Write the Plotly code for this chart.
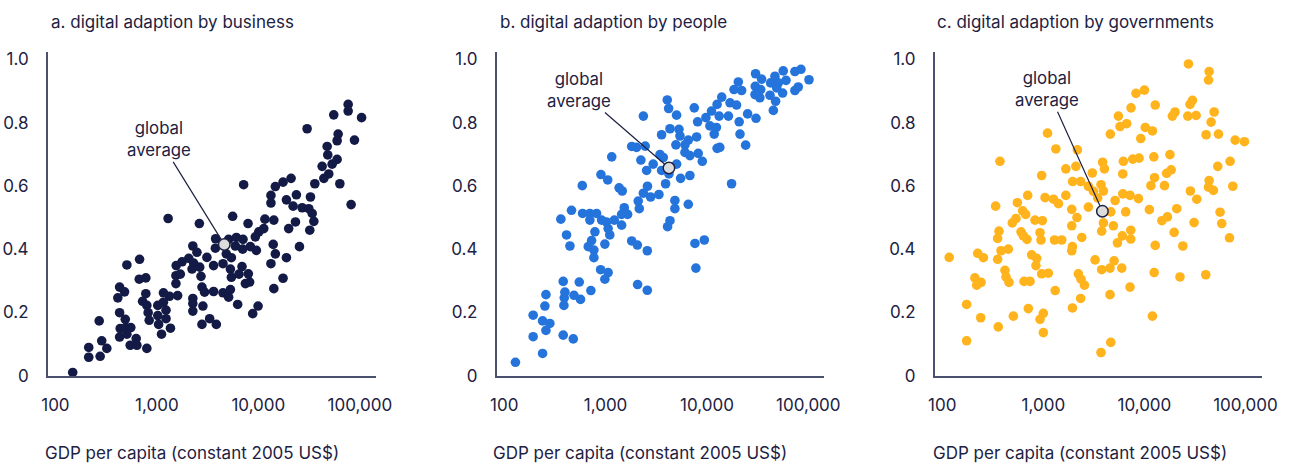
import math
import plotly.graph_objects as go

# ---------------- data ----------------
panel_titles = ["a. digital adaption by business",
                "b. digital adaption by people",
                "c. digital adaption by governments"]
x_title = "GDP per capita (constant 2005 US$)"
x_tickvals = [100, 1000, 10000, 100000]
x_ticktext = ["100", "1,000", "10,000", "100,000"]
y_tickvals = [0, 0.2, 0.4, 0.6, 0.8, 1.0]
y_ticktext = ["0", "0.2", "0.4", "0.6", "0.8", "1.0"]

business_gdp = [
    76700, 76700, 55300, 104000, 30200, 61100, 88500, 59700, 47600, 48300,
    59700, 53300, 42500, 49400, 44200, 63500, 36000, 82000, 21000, 17500,
    14700, 13300, 23700, 32600, 13300, 18900, 22000, 27000, 31400, 33900,
    35200, 32100, 23200, 19900, 25400, 11600, 14200, 11300, 10100, 9330,
    14000, 14700, 18900, 13300, 17500, 14200, 7160, 5580, 7910, 2620,
    1290, 3790, 5090, 6070, 7060, 5930, 7000, 8340, 9550, 3770,
    2260, 2480, 3110, 2060, 1770, 1550, 2300, 2640, 2220, 3620,
    4480, 4830, 5420, 5300, 5420, 6900, 6440, 7960, 8200, 7450,
    2720, 1540, 1700, 1540, 2780, 2950, 3620, 4480, 5300, 5090,
    6250, 2260, 2260, 2260, 2840, 3310, 2780, 3850, 8790, 9930,
    1600, 1330, 1160, 1160, 1230, 1020, 1020, 1040, 1230, 1360,
    1110, 675, 506, 670, 778, 778, 723, 796, 820, 840,
    429, 480, 412, 429, 488, 435, 494, 553, 429, 506,
    625, 546, 635, 796, 270, 286, 321, 276, 213, 213, 148]
business_score = [
    0.858, 0.837, 0.825, 0.816, 0.781, 0.764, 0.745, 0.743, 0.725, 0.698,
    0.684, 0.669, 0.662, 0.638, 0.624, 0.607, 0.607, 0.541, 0.624, 0.612,
    0.598, 0.570, 0.572, 0.565, 0.546, 0.556, 0.536, 0.531, 0.528, 0.513,
    0.488, 0.460, 0.486, 0.465, 0.408, 0.495, 0.492, 0.465, 0.455, 0.439,
    0.415, 0.385, 0.373, 0.354, 0.308, 0.275, 0.604, 0.504, 0.481, 0.481,
    0.497, 0.433, 0.431, 0.437, 0.431, 0.410, 0.400, 0.408, 0.396, 0.403,
    0.410, 0.390, 0.374, 0.371, 0.360, 0.348, 0.356, 0.343, 0.337, 0.348,
    0.354, 0.385, 0.373, 0.337, 0.311, 0.345, 0.321, 0.322, 0.296, 0.291,
    0.314, 0.316, 0.321, 0.291, 0.280, 0.264, 0.266, 0.262, 0.272, 0.248,
    0.225, 0.244, 0.228, 0.204, 0.220, 0.180, 0.162, 0.162, 0.196, 0.220,
    0.253, 0.251, 0.262, 0.232, 0.207, 0.222, 0.190, 0.162, 0.180, 0.150,
    0.131, 0.368, 0.350, 0.305, 0.309, 0.259, 0.235, 0.222, 0.199, 0.175,
    0.280, 0.265, 0.246, 0.199, 0.178, 0.149, 0.152, 0.152, 0.122, 0.131,
    0.117, 0.096, 0.096, 0.086, 0.173, 0.110, 0.086, 0.061, 0.089, 0.058, 0.010]

people_gdp = [
    84700, 73800, 56600, 101600, 30200, 34600, 46900, 60300, 20400, 30000,
    50600, 42500, 48800, 79600, 73800, 55800, 18500, 22000, 33900, 29800,
    33300, 41900, 47600, 14000, 16900, 19600, 45200, 12600, 11100, 13200,
    16300, 25200, 30500, 9770, 20800, 10700, 12400, 11800, 21200, 24100,
    12600, 13400, 8090, 7500, 5020, 4060, 4190, 4320, 3570, 5300,
    5420, 7910, 6550, 4940, 6070, 2360, 1810, 2020, 2460, 3440,
    3710, 6070, 6790, 8200, 9000, 2950, 3570, 5020, 2230, 2540,
    4220, 5500, 6790, 3910, 3360, 2780, 2590, 2360, 2100, 2150,
    4830, 4830, 6550, 4320, 4090, 17500, 1150, 900, 1050, 589,
    1360, 1460, 1530, 1650, 1440, 1220, 1440, 1020, 1060, 1100,
    914, 815, 700, 593, 700, 461, 362, 785, 728, 675,
    767, 767, 984, 412, 445, 1810, 2060, 2580, 893, 1060,
    984, 382, 550, 397, 488, 391, 566, 716, 388, 2070,
    2580, 7620, 9420, 7780, 258, 252, 193, 239, 282, 258,
    193, 382, 480, 239, 129]
people_score = [
    0.969, 0.962, 0.964, 0.936, 0.955, 0.938, 0.947, 0.934, 0.929, 0.915,
    0.926, 0.926, 0.910, 0.913, 0.902, 0.894, 0.905, 0.902, 0.905, 0.889,
    0.879, 0.887, 0.868, 0.881, 0.863, 0.856, 0.839, 0.858, 0.837, 0.821,
    0.821, 0.828, 0.814, 0.816, 0.803, 0.790, 0.785, 0.764, 0.764, 0.729,
    0.719, 0.722, 0.803, 0.847, 0.824, 0.872, 0.845, 0.781, 0.762, 0.779,
    0.758, 0.755, 0.745, 0.730, 0.730, 0.821, 0.725, 0.722, 0.726, 0.699,
    0.690, 0.706, 0.696, 0.703, 0.678, 0.669, 0.649, 0.669, 0.682, 0.649,
    0.638, 0.624, 0.633, 0.607, 0.573, 0.565, 0.599, 0.577, 0.552, 0.528,
    0.554, 0.528, 0.542, 0.490, 0.471, 0.607, 0.692, 0.636, 0.619, 0.601,
    0.594, 0.584, 0.531, 0.510, 0.510, 0.492, 0.476, 0.486, 0.465, 0.445,
    0.492, 0.513, 0.513, 0.513, 0.492, 0.523, 0.495, 0.455, 0.427, 0.408,
    0.397, 0.373, 0.416, 0.445, 0.410, 0.426, 0.413, 0.395, 0.335, 0.326,
    0.305, 0.298, 0.296, 0.264, 0.254, 0.246, 0.241, 0.269, 0.222, 0.288,
    0.270, 0.418, 0.429, 0.340, 0.256, 0.220, 0.191, 0.173, 0.165, 0.143,
    0.123, 0.128, 0.116, 0.070, 0.042]

government_gdp = [
    27300, 43700, 43100, 10000, 8260, 12800, 29900, 28300, 20100, 18900,
    26900, 32500, 49000, 45700, 40800, 54100, 79100, 97700, 7380, 5530,
    6680, 5740, 10200, 12000, 9200, 4600, 1100, 1330, 2170, 372,
    3860, 4020, 6190, 7660, 8850, 12400, 17900, 6110, 3050, 2100,
    1670, 962, 1950, 2340, 2790, 3720, 3930, 3130, 1670, 1040,
    1260, 1410, 1910, 2790, 3450, 2150, 1910, 2400, 4650, 5130,
    3930, 3780, 4930, 6530, 6110, 7210, 8730, 11600, 12600, 15800,
    16600, 18400, 28500, 33000, 43700, 43100, 48200, 53200, 70500, 75000,
    11200, 14900, 16900, 20900, 31000, 19700, 24000, 12800, 7330, 6050,
    5410, 7330, 56100, 58300, 69500, 3250, 3780, 4570, 5010, 5970,
    7210, 12500, 22500, 40500, 12000, 4570, 4650, 3720, 1940, 1910,
    2220, 2360, 2550, 2340, 1940, 1310, 1290, 1520, 948, 927,
    826, 977, 700, 553, 624, 668, 536, 493, 601, 634,
    689, 337, 364, 353, 381, 450, 353, 766, 859, 845,
    962, 1120, 644, 738, 417, 427, 457, 710, 1000, 927,
    1000, 505, 358, 224, 255, 210, 242, 219, 174, 240,
    174, 117]
government_score = [
    0.986, 0.962, 0.935, 0.903, 0.893, 0.856, 0.871, 0.858, 0.834, 0.821,
    0.821, 0.823, 0.834, 0.802, 0.762, 0.764, 0.745, 0.740, 0.847, 0.821,
    0.797, 0.788, 0.785, 0.774, 0.750, 0.764, 0.767, 0.717, 0.714, 0.678,
    0.675, 0.654, 0.678, 0.685, 0.688, 0.692, 0.699, 0.638, 0.641, 0.662,
    0.654, 0.633, 0.614, 0.614, 0.599, 0.604, 0.584, 0.583, 0.570, 0.563,
    0.558, 0.544, 0.526, 0.533, 0.562, 0.500, 0.474, 0.437, 0.518, 0.554,
    0.483, 0.457, 0.474, 0.518, 0.575, 0.570, 0.560, 0.601, 0.626, 0.601,
    0.640, 0.651, 0.584, 0.558, 0.617, 0.596, 0.586, 0.662, 0.678, 0.599,
    0.525, 0.490, 0.502, 0.528, 0.484, 0.453, 0.410, 0.412, 0.432, 0.442,
    0.420, 0.460, 0.517, 0.481, 0.436, 0.366, 0.335, 0.340, 0.363, 0.340,
    0.280, 0.326, 0.312, 0.319, 0.188, 0.256, 0.105, 0.073, 0.408, 0.395,
    0.322, 0.305, 0.286, 0.244, 0.214, 0.269, 0.429, 0.429, 0.429, 0.452,
    0.492, 0.490, 0.570, 0.547, 0.521, 0.510, 0.497, 0.483, 0.455, 0.442,
    0.431, 0.536, 0.457, 0.434, 0.395, 0.400, 0.368, 0.382, 0.371, 0.348,
    0.322, 0.324, 0.298, 0.298, 0.333, 0.312, 0.295, 0.212, 0.197, 0.178,
    0.136, 0.188, 0.154, 0.387, 0.373, 0.309, 0.295, 0.286, 0.225, 0.183,
    0.110, 0.374]

global_avg_gdp = [4610, 4220, 3840]
global_avg_score = [0.415, 0.657, 0.520]
global_avg_label = "global<br>average"

# ---------------- styling / layout ----------------
W, H = 1295, 469
# the captured page comes out slightly shifted/reduced; target picture
# positions are mapped back through that factor
OX, SX = 7.0, 0.982
SY = 0.982


def px_x(p):
    return (p - OX) / SX / W


def px_y(p):
    return 1 - (p / SY) / H


FONT = "Inter, 'Noto Sans', sans-serif"
TEXT = "#1d2142"
AXIS = "#4a5070"
colors = ["#131a45", "#2474dc", "#ffb31c"]
series = [(business_gdp, business_score),
          (people_gdp, people_score),
          (government_gdp, government_score)]

x_px = [(48, 376), (496.7, 824.3), (934.7, 1261.3)]   # target axis extents
y_top_px, y_bot_px = 50, 376.5
title_x_px = [49, 498, 935]
xtitle_x_px = [43, 491, 931]
label_offsets = [(-65, -105), (-90, -78), (-55, -122)]

fig = go.Figure()
layout = dict(
    width=W, height=H,
    margin=dict(l=0, r=0, t=0, b=0),
    paper_bgcolor="white", plot_bgcolor="white",
    showlegend=False,
    font=dict(family=FONT, color=TEXT, size=16),
)
annotations = []
for i in range(3):
    sfx = "" if i == 0 else str(i + 1)
    xa, ya = "x" + sfx, "y" + sfx
    gdp, score = series[i]
    fig.add_trace(go.Scatter(
        x=gdp, y=score, mode="markers", xaxis=xa, yaxis=ya,
        marker=dict(color=colors[i], size=9.6, line=dict(width=0)),
        cliponaxis=False, hoverinfo="skip"))
    fig.add_trace(go.Scatter(
        x=[global_avg_gdp[i]], y=[global_avg_score[i]], mode="markers",
        xaxis=xa, yaxis=ya,
        marker=dict(color="#dcdcdc", size=11.5, line=dict(color=TEXT, width=1.5)),
        cliponaxis=False, hoverinfo="skip"))
    x0, x1 = x_px[i]
    layout["xaxis" + sfx] = dict(
        type="log", range=[1.927, 5.16], domain=[px_x(x0), px_x(x1)],
        anchor=ya, tickvals=x_tickvals, ticktext=x_ticktext, ticks="",
        ticklabelstandoff=13, tickfont=dict(size=17, color=TEXT),
        showline=True, linecolor=AXIS, linewidth=2,
        showgrid=False, zeroline=False, fixedrange=True)
    layout["yaxis" + sfx] = dict(
        range=[0, 1.025], domain=[px_y(y_bot_px), px_y(y_top_px)], anchor=xa,
        tickvals=y_tickvals, ticktext=y_ticktext, ticks="",
        ticklabelstandoff=14, tickfont=dict(size=17, color=TEXT),
        showline=True, linecolor=AXIS, linewidth=2,
        showgrid=False, zeroline=False, fixedrange=True)
    annotations.append(dict(
        text=panel_titles[i], xref="paper", yref="paper",
        x=px_x(title_x_px[i]), y=px_y(20),
        xanchor="left", yanchor="middle",
        showarrow=False, font=dict(size=17, color=TEXT)))
    annotations.append(dict(
        text=x_title, xref="paper", yref="paper",
        x=px_x(xtitle_x_px[i]), y=1 - 463 / H,
        xanchor="left", yanchor="middle",
        showarrow=False, font=dict(size=17, color=TEXT)))
    annotations.append(dict(
        text=global_avg_label, xref=xa, yref=ya,
        x=math.log10(global_avg_gdp[i]), y=global_avg_score[i],
        ax=label_offsets[i][0], ay=label_offsets[i][1],
        showarrow=True, arrowhead=0, arrowwidth=1.2, arrowcolor=TEXT,
        standoff=6, align="center", font=dict(size=16.8, color=TEXT)))

layout["annotations"] = annotations
fig.update_layout(**layout)
fig.write_html("out.html")
